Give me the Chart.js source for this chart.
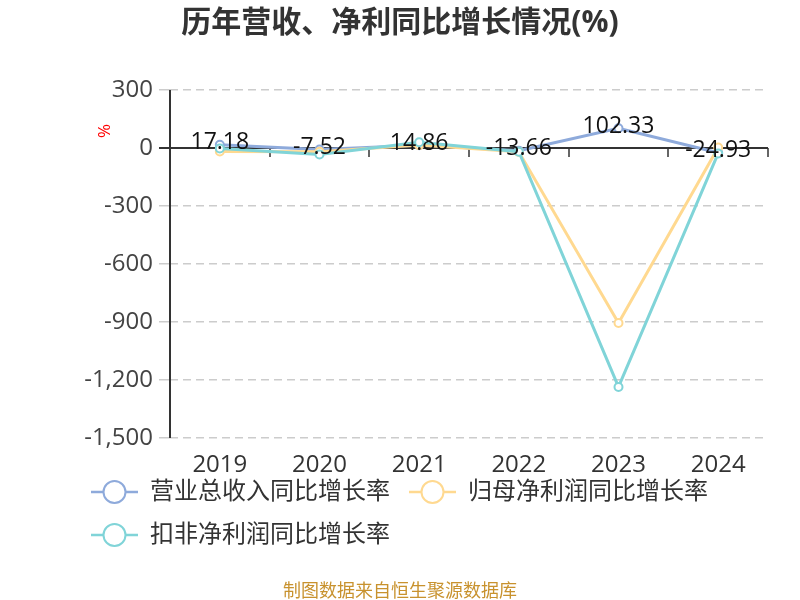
<!DOCTYPE html>
<html lang="zh">
<head>
  <meta charset="UTF-8">
  <title>历年营收、净利同比增长情况(%)</title>
  <script src="https://cdn.jsdelivr.net/npm/chart.js"></script>
  <style>
    html, body { margin: 0; padding: 0; background: #fff; }
    #wrap { width: 800px; height: 600px; }
  </style>
</head>
<body>
  <div id="wrap"><canvas id="growthChart" width="800" height="600"></canvas></div>
  <script>
    // chart data
    const years = ['2019', '2020', '2021', '2022', '2023', '2024'];
    const revenueGrowth = [17.18, -7.52, 14.86, -13.66, 102.33, -24.93];
    const netProfitGrowth = [-18, -19, 15, -20, -905, 3];
    const deductedProfitGrowth = [-2, -33, 30, -19, -1236, -28];
    const seriesNames = ['营业总收入同比增长率', '归母净利润同比增长率', '扣非净利润同比增长率'];
    const seriesColors = ['#8eaadb', '#ffd990', '#80d4d8'];
    const yTicks = [300, 0, -300, -600, -900, -1200, -1500];

    const chartTitle = '历年营收、净利同比增长情况(%)';
    const sourceNote = '制图数据来自恒生聚源数据库';

    Chart.defaults.font.family = "'Open Sans', 'Noto Sans CJK SC', sans-serif";

    // legend icon: short line with a hollow circle
    function makeIcon(color) {
      const c = document.createElement('canvas');
      c.width = 47;
      c.height = 28;
      const g = c.getContext('2d');
      g.strokeStyle = color;
      g.lineWidth = 2.5;
      g.beginPath();
      g.moveTo(0, 14);
      g.lineTo(47, 14);
      g.stroke();
      g.beginPath();
      g.arc(23.5, 14, 11, 0, Math.PI * 2);
      g.fillStyle = '#fff';
      g.fill();
      g.lineWidth = 2;
      g.stroke();
      return c;
    }
    const icons = seriesColors.map(makeIcon);

    const extras = {
      id: 'extras',
      beforeDatasetsDraw(chart) {
        const { ctx, chartArea } = chart;
        const xs = chart.scales.x;
        const ys = chart.scales.y;
        const y0 = ys.getPixelForValue(0);
        ctx.save();
        ctx.strokeStyle = '#333';
        ctx.lineWidth = 2;
        // y axis line
        ctx.beginPath();
        ctx.moveTo(chartArea.left, chartArea.top);
        ctx.lineTo(chartArea.left, chartArea.bottom);
        ctx.stroke();
        // x axis line at zero with ticks on category boundaries
        ctx.beginPath();
        ctx.moveTo(chartArea.left - 11, y0);
        ctx.lineTo(chartArea.right, y0);
        ctx.stroke();
        ctx.lineWidth = 1.5;
        for (let i = 1; i <= years.length; i++) {
          const bx = Math.round(xs.getPixelForValue(i - 0.5));
          ctx.beginPath();
          ctx.moveTo(bx, y0);
          ctx.lineTo(bx, y0 + 9);
          ctx.stroke();
        }
        // category labels under the plot
        ctx.fillStyle = '#333';
        ctx.font = "24px 'Open Sans', sans-serif";
        ctx.textAlign = 'center';
        ctx.textBaseline = 'middle';
        years.forEach((yr, i) => {
          ctx.fillText(yr, xs.getPixelForValue(i), chartArea.bottom + 27);
        });
        ctx.restore();
      },
      afterDatasetsDraw(chart) {
        const { ctx } = chart;
        const meta = chart.getDatasetMeta(0);
        ctx.save();
        ctx.font = "23px 'Open Sans', sans-serif";
        ctx.fillStyle = '#111';
        ctx.textAlign = 'center';
        ctx.textBaseline = 'middle';
        meta.data.forEach((pt, i) => {
          ctx.fillText(revenueGrowth[i].toFixed(2), pt.x, pt.y - 2);
        });
        ctx.restore();
      },
      afterDraw(chart) {
        const { ctx, width } = chart;
        ctx.save();
        ctx.textAlign = 'center';
        ctx.textBaseline = 'middle';
        ctx.fillStyle = '#333';
        ctx.font = "bold 30px 'Open Sans', 'Noto Sans CJK SC', sans-serif";
        ctx.fillText(chartTitle, width / 2, 23);
        ctx.fillStyle = '#c8922e';
        ctx.font = "18px 'Noto Sans CJK SC', sans-serif";
        ctx.fillText(sourceNote, width / 2, 590);
        // unit label of the y axis
        ctx.translate(105, 131);
        ctx.rotate(-Math.PI / 2);
        ctx.fillStyle = '#ff0000';
        ctx.font = "17px 'Open Sans', sans-serif";
        ctx.fillText('%', 0, 0);
        ctx.restore();
      }
    };

    const makeSet = (i, data, order) => ({
      label: seriesNames[i],
      data: data,
      borderColor: seriesColors[i],
      backgroundColor: '#fff',
      pointBorderColor: seriesColors[i],
      pointBackgroundColor: '#fff',
      borderWidth: 3,
      pointRadius: 4,
      pointBorderWidth: 2,
      tension: 0,
      order: order
    });

    new Chart(document.getElementById('growthChart'), {
      type: 'line',
      data: {
        labels: years,
        datasets: [
          makeSet(0, revenueGrowth, 2),
          makeSet(1, netProfitGrowth, 1),
          makeSet(2, deductedProfitGrowth, 0)
        ]
      },
      options: {
        responsive: false,
        animation: false,
        layout: { padding: { left: 72, right: 32, top: 90, bottom: 43 } },
        scales: {
          x: {
            offset: true,
            grid: { display: false, drawTicks: false },
            border: { display: false },
            ticks: { display: false },
            afterFit: (s) => { s.height = 23; }
          },
          y: {
            min: -1500,
            max: 300,
            afterBuildTicks: (s) => { s.ticks = yTicks.map(v => ({ value: v })); },
            grid: {
              color: (c) => c.tick && c.tick.value === 0 ? 'rgba(0,0,0,0)' : '#cccccc',
              lineWidth: 1.5,
              tickLength: 11,
              tickColor: (c) => c.tick && c.tick.value === 0 ? '#333' : '#cccccc'
            },
            border: { display: false, dash: [8, 5] },
            ticks: { color: '#444', font: { size: 24 }, padding: 6 },
            afterFit: (s) => { s.width = 98; }
          }
        },
        plugins: {
          title: { display: false },
          tooltip: { enabled: false },
          legend: {
            position: 'bottom',
            align: 'start',
            labels: {
              usePointStyle: true,
              pointStyleWidth: 47,
              padding: 19,
              color: '#333',
              font: { size: 24 },
              sort: (a, b) => a.datasetIndex - b.datasetIndex,
              generateLabels: (chart) => {
                const items = Chart.defaults.plugins.legend.labels.generateLabels(chart);
                items.forEach(it => { it.pointStyle = icons[it.datasetIndex]; });
                return items;
              }
            }
          }
        }
      },
      plugins: [extras]
    });
  </script>
</body>
</html>
